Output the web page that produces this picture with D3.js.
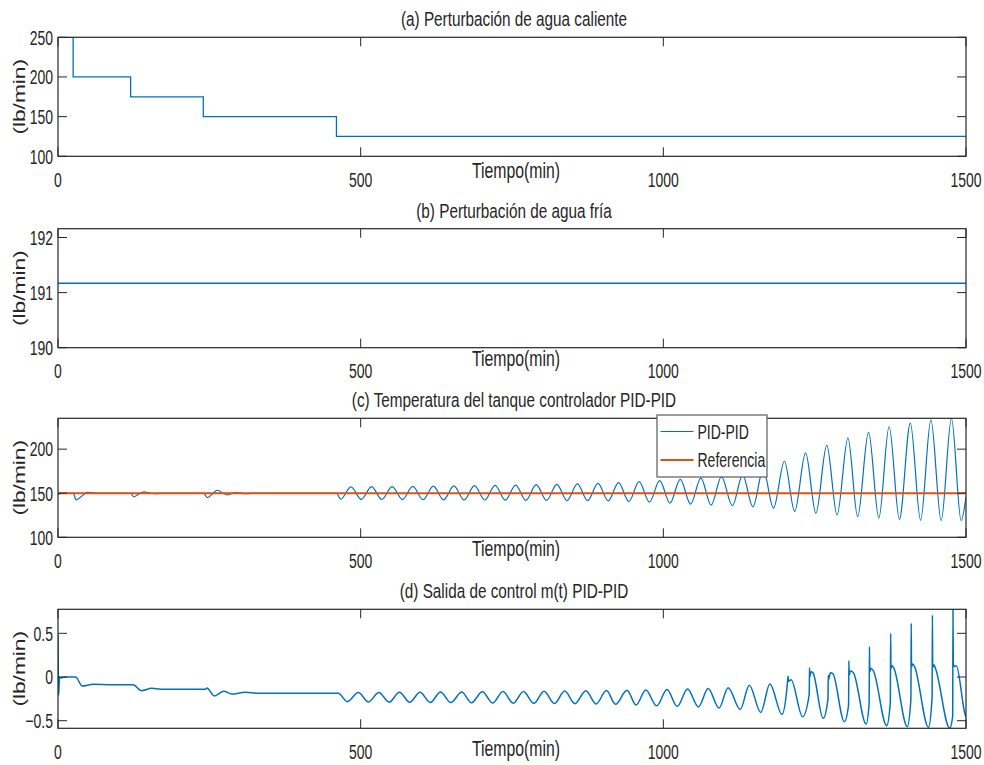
<!DOCTYPE html>
<html>
<head>
<meta charset="utf-8">
<script src="https://cdn.jsdelivr.net/npm/d3@7"></script>
<style>
  body { margin: 0; background: #fff; }
  svg { display: block; }
  text { font-family: "Liberation Sans", Arial, sans-serif; fill: #262626; }
</style>
</head>
<body>
<svg id="fig" width="984" height="765"></svg>
<script>
// ---------- data ----------
const xTicks = [0, 500, 1000, 1500];

// (a) hot-water disturbance: step changes (time in min, flow in lb/min)
const hotTimes = [0, 25, 120, 240, 460, 1500];
const hotFlow  = [250, 200, 175, 150, 125, 125];
const hotTicks = [100, 150, 200, 250];

// (b) cold-water disturbance: constant
const coldTimes = [0, 1500];
const coldFlow  = [191.17, 191.17];
const coldTicks = [190, 191, 192];

// (c) tank temperature with PID-PID control, and its reference
const tempPID = [
  [0,148],[4,150],[25,150],[30,142.5],[40,147],[48,151],[60,150.3],[70,150],
  [120,150],[125,145.8],[133,149],[142,151.5],[152,150.2],[160,149.5],[175,150],
  [240,150],[247,145.1],[255,149],[263,153.4],[279,148],[294,150.8],[310,149.6],[330,150],[460,150],
  [467,143.2],[484,157.2],[501,143.0],[518,157.4],[535,142.9],[552,157.6],[569,142.8],[586,157.8],
  [603,142.7],[620,158.0],[637,142.5],[654,158.3],[671,142.4],[688,158.6],[705,142.3],[722,158.9],
  [739,142.1],[756,159.3],[773,142.0],[790,159.7],[807,141.8],[824,160.1],[841,141.7],[858,160.6],
  [875,141.5],[892,161.2],[909,141.3],[926,162.0],[943,140.6],[960,163.1],[977,139.9],[994,164.3],
  [1011,138.8],[1028,165.7],[1045,137.7],[1062,167.2],[1079,136.5],[1096,168.8],[1114,135.8],[1131,170.6],
  [1148,134.6],[1165,177.0],[1182,133.1],[1200,186.3],[1217,129.4],[1235,195.7],[1252,127.2],[1270,204.3],
  [1287,125.3],[1305,212.6],[1321,123.4],[1339,219.3],[1356,121.9],[1373,225.7],[1390,120.4],[1408,229.5],
  [1425,119.3],[1442,233.2],[1459,118.9],[1476,234.8],[1492,118.8],[1500,146]
];
const refTimes = [0, 1500];
const refTemp  = [150, 150];
const tempTicks = [100, 150, 200];

// (d) controller output m(t)
const controlOut = [
  [0,0.48],[1,-0.21],[2.5,0.0],[5,-0.01],[10,0.0],[29,0.0],[40,-0.103],[58,-0.084],[90,-0.088],
  [124,-0.088],[138,-0.157],[155,-0.13],[170,-0.14],[244,-0.14],[246,-0.125],[258,-0.217],
  [274,-0.164],[287,-0.195],[309,-0.175],[330,-0.185],[463,-0.185],
  [478,-0.282],[496,-0.177],[513,-0.285],[530,-0.176],[547,-0.287],[564,-0.175],[581,-0.289],[598,-0.174],
  [615,-0.291],[632,-0.172],[649,-0.293],[667,-0.171],[683,-0.295],[701,-0.169],[718,-0.297],[735,-0.167],
  [752,-0.299],[769,-0.165],[786,-0.301],[803,-0.163],[820,-0.303],[837,-0.161],[854,-0.305],[872,-0.158],
  [889,-0.308],[906,-0.155],[921,-0.312],[940,-0.152],[955,-0.320],[971,-0.149],[989,-0.330],[1006,-0.143],
  [1023,-0.336],[1040,-0.138],[1058,-0.342],[1074,-0.132],[1092,-0.356],[1107,-0.122],[1127,-0.372],
  [1142,-0.095],[1161,-0.405],[1176,-0.080],[1196,-0.427],[1205,-0.07],[1206,0.01],[1207,-0.05],[1211,-0.03],
  [1230,-0.454],[1241,-0.2],[1241.5,0.106],[1242,0.0],[1244,0.06],[1247,0.05],
  [1264,-0.473],[1272,-0.25],[1272.5,0.02],[1273,-0.03],[1276,0.05],[1280,0.04],
  [1299,-0.511],[1306,-0.32],[1306.5,0.186],[1307,0.02],[1309,0.07],[1314,0.05],
  [1335,-0.538],[1340,-0.30],[1340.5,0.347],[1341,0.06],[1343,0.10],[1347,0.07],
  [1369,-0.557],[1375,-0.29],[1375.5,0.50],[1376,0.10],[1378,0.13],[1381,0.10],
  [1403,-0.568],[1409,-0.25],[1409.5,0.614],[1410,0.12],[1412,0.15],[1415,0.12],
  [1438,-0.576],[1444,-0.23],[1444.5,0.709],[1445,0.11],[1447,0.14],[1450,0.09],
  [1473,-0.585],[1478,-0.45],[1478.5,0.775],[1479,0.16],[1481,0.12],[1484,0.13],[1498,-0.415],[1500,-0.46]
];
const ctrlTicks = [-0.5, 0, 0.5];

// ---------- layout ----------
const svg = d3.select("#fig");
const W = 984, left = 58, right = 966, plotH = 119;
const blue = "#0072BD", orange = "#D95319", ink = "#262626";
const stretch = 1.45;   // vertical stretch of all lettering
const tickLen = 9;

const x = d3.scaleLinear().domain([0, 1500]).range([left, right]);

function txt(g, px, py, str, size, anchor, dy, sy) {
  return g.append("text")
    .attr("transform", `translate(${px},${py}) scale(1,${sy || stretch})`)
    .attr("text-anchor", anchor || "middle")
    .attr("dy", dy || 0)
    .attr("font-size", size)
    .text(str);
}

const panels = [
  { id: "a", top: 37.3, domain: [100, 250], ticks: hotTicks, fmt: d3.format("d"),
    title: "(a) Perturbación de agua caliente", xlabelDy: 13.5 },
  { id: "b", top: 228.7, domain: [190, 192.16], ticks: coldTicks, fmt: d3.format("d"),
    title: "(b) Perturbación de agua fría", xlabelDy: 10 },
  { id: "c", top: 418.3, domain: [100, 235], ticks: tempTicks, fmt: d3.format("d"),
    title: "(c) Temperatura del tanque controlador PID-PID", xlabelDy: 11 },
  { id: "d", top: 609.3, domain: [-0.587, 0.775], ticks: ctrlTicks, fmt: d => d === 0 ? "0" : d3.format(".1f")(d),
    title: "(d) Salida de control m(t) PID-PID", xlabelDy: 20 }
];

panels.forEach(p => {
  const top = p.top, bottom = top + plotH;
  const y = d3.scaleLinear().domain(p.domain).range([bottom, top]);
  p.y = y;
  const g = svg.append("g").attr("class", "panel-" + p.id);
  p.g = g;

  g.append("clipPath").attr("id", "clip-" + p.id)
    .append("rect").attr("x", left).attr("y", top).attr("width", right - left).attr("height", plotH);
  p.plot = g.append("g").attr("clip-path", `url(#clip-${p.id})`);

  // y ticks (inside, both sides) and labels
  p.ticks.forEach(v => {
    const yy = y(v);
    g.append("line").attr("x1", left).attr("x2", left + tickLen).attr("y1", yy).attr("y2", yy)
      .attr("stroke", ink).attr("stroke-width", 1);
    g.append("line").attr("x1", right).attr("x2", right - tickLen).attr("y1", yy).attr("y2", yy)
      .attr("stroke", ink).attr("stroke-width", 1);
    txt(g, left - 5, yy, p.fmt(v), 14, "end", "0.36em");
  });

  // x ticks (inside, top and bottom) and labels
  xTicks.forEach(v => {
    const xx = x(v);
    g.append("line").attr("x1", xx).attr("x2", xx).attr("y1", bottom).attr("y2", bottom - tickLen)
      .attr("stroke", ink).attr("stroke-width", 1);
    g.append("line").attr("x1", xx).attr("x2", xx).attr("y1", top).attr("y2", top + tickLen)
      .attr("stroke", ink).attr("stroke-width", 1);
    txt(g, xx, bottom + 30.5, String(v), 14, "middle");
  });

  // titles and axis labels
  txt(g, (left + right) / 2 + 2, top - 11, p.title, 15.3, "middle", 0, 1.38);
  txt(g, (left + right) / 2 + 4, bottom + p.xlabelDy, "Tiempo(min)", 15.8, "middle", "0.36em", 1.38);
  g.append("text")
    .attr("transform", `translate(19,${(top + bottom) / 2}) scale(1,1.42) rotate(-90)`)
    .attr("text-anchor", "middle").attr("dy", "0.36em")
    .attr("font-size", 16).text("(lb/min)");
});

// ---------- series ----------
const pa = panels[0], pb = panels[1], pc = panels[2], pd = panels[3];

pa.plot.append("path")
  .datum(hotTimes.map((t, i) => [t, hotFlow[i]]))
  .attr("fill", "none").attr("stroke", blue).attr("stroke-width", 1.3)
  .attr("d", d3.line().x(d => x(d[0])).y(d => pa.y(d[1])).curve(d3.curveStepAfter));

pb.plot.append("path")
  .datum(coldTimes.map((t, i) => [t, coldFlow[i]]))
  .attr("fill", "none").attr("stroke", blue).attr("stroke-width", 1.4)
  .attr("d", d3.line().x(d => x(d[0])).y(d => pb.y(d[1])));

pc.plot.append("path")
  .datum(tempPID)
  .attr("fill", "none").attr("stroke", blue).attr("stroke-width", 1.2)
  .attr("d", d3.line().x(d => x(d[0])).y(d => pc.y(d[1])).curve(d3.curveMonotoneX));

pc.plot.append("path")
  .datum(refTimes.map((t, i) => [t, refTemp[i]]))
  .attr("fill", "none").attr("stroke", orange).attr("stroke-width", 2)
  .attr("d", d3.line().x(d => x(d[0])).y(d => pc.y(d[1])));

pd.plot.append("path")
  .datum(controlOut)
  .attr("fill", "none").attr("stroke", blue).attr("stroke-width", 1.5)
  .attr("d", d3.line().x(d => x(d[0])).y(d => pd.y(d[1])).curve(d3.curveMonotoneX));

// ---------- frames (drawn over the series) ----------
panels.forEach(p => {
  p.g.append("rect").attr("x", left).attr("y", p.top).attr("width", right - left).attr("height", plotH)
    .attr("fill", "none").attr("stroke", ink).attr("stroke-width", 1.2);
});

// ---------- legend for (c) ----------
const lg = pc.g.append("g").attr("transform", `translate(${left + 599},${pc.top - 3.3})`);
lg.append("rect").attr("width", 110).attr("height", 62)
  .attr("fill", "#fff").attr("stroke", "#5a5a5a").attr("stroke-width", 1.2);
[["PID-PID", blue, 1.2, 16.5], ["Referencia", orange, 2, 45]].forEach(([name, col, sw, ly]) => {
  lg.append("line").attr("x1", 3.5).attr("x2", 36.5).attr("y1", ly).attr("y2", ly)
    .attr("stroke", col).attr("stroke-width", sw);
  txt(lg, 40.5, ly, name, 14, "start", "0.36em", 1.42);
});
</script>
</body>
</html>
